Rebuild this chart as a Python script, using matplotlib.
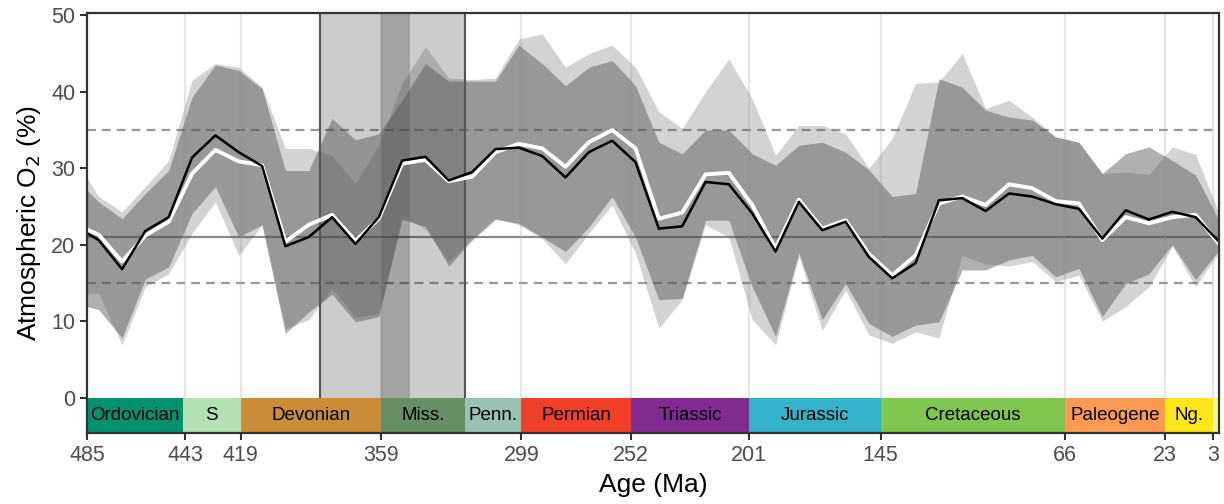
import matplotlib
matplotlib.use('Agg')
import matplotlib.pyplot as plt

plt.rcParams['font.family'] = ['Liberation Sans', 'DejaVu Sans']

# model time steps (Ma)
age = [485, 480, 470, 460, 450, 440, 430, 420, 410, 400,
       390, 380, 370, 360, 350, 340, 330, 320, 310, 300,
       290, 280, 270, 260, 250, 240, 230, 220, 210, 200,
       190, 180, 170, 160, 150, 140, 130, 120, 110, 100,
       90, 80, 70, 60, 50, 40, 30, 20, 10, 0]

o2_black = [21.5, 20.6, 16.8, 21.8, 23.6, 31.4, 34.3, 32.1, 30.3, 19.8,
            21.0, 23.6, 20.1, 23.6, 31.0, 31.5, 28.4, 29.5, 32.5, 32.7,
            31.6, 28.8, 32.1, 33.6, 30.8, 22.1, 22.4, 28.2, 27.9, 24.1,
            19.1, 25.6, 21.9, 23.0, 18.4, 15.6, 17.6, 25.8, 26.1, 24.4,
            26.7, 26.3, 25.3, 24.7, 20.8, 24.5, 23.3, 24.3, 23.6, 20.4]

o2_white = [22.0, 21.3, 17.8, 21.2, 23.0, 29.3, 32.4, 30.9, 30.4, 20.4,
            22.6, 23.9, 20.5, 23.4, 30.6, 31.1, 28.3, 28.9, 32.1, 33.2,
            32.6, 30.2, 33.4, 35.0, 32.6, 23.4, 24.2, 29.2, 29.4, 25.2,
            19.5, 25.9, 22.1, 23.2, 18.8, 16.0, 18.6, 25.4, 26.3, 25.2,
            27.9, 27.4, 25.7, 25.4, 20.6, 23.6, 22.8, 23.6, 23.9, 20.1]

# light envelope
light_hi = [28.7, 26.3, 24.3, 27.6, 31.0, 41.5, 43.7, 43.2, 40.6, 32.6,
            32.6, 31.7, 28.0, 33.0, 41.1, 45.9, 41.8, 41.6, 41.8, 46.9,
            47.6, 43.2, 45.0, 46.1, 43.2, 37.4, 35.2, 40.0, 44.3, 39.1,
            31.7, 35.6, 35.6, 34.5, 30.0, 33.9, 41.1, 41.3, 45.0, 37.8,
            38.9, 36.7, 34.1, 33.4, 29.3, 29.5, 29.2, 32.8, 31.8, 24.1]
light_lo = [13.6, 13.6, 6.9, 14.5, 16.2, 21.5, 25.6, 18.6, 22.6, 9.0,
            10.2, 14.3, 10.5, 11.0, 23.8, 22.0, 17.8, 20.8, 23.5, 22.6,
            20.8, 17.5, 21.5, 25.2, 18.9, 9.1, 12.8, 22.6, 21.0, 10.2,
            6.9, 18.5, 8.8, 14.1, 8.2, 7.1, 8.6, 7.8, 18.6, 17.5,
            17.2, 17.8, 15.2, 16.0, 10.0, 11.9, 14.5, 19.8, 14.5, 19.0]

# darker envelope
dark_hi = [27.1, 25.6, 23.4, 26.7, 29.7, 39.3, 43.5, 42.8, 40.4, 29.7,
           29.7, 36.5, 33.7, 34.5, 38.9, 43.7, 41.4, 41.4, 41.4, 46.1,
           43.7, 40.8, 43.2, 44.1, 40.8, 33.4, 31.9, 35.0, 35.0, 31.9,
           30.4, 33.0, 33.4, 32.1, 29.8, 26.3, 26.7, 41.7, 40.6, 37.6,
           36.7, 36.3, 34.1, 33.4, 29.3, 31.9, 32.8, 31.0, 29.1, 23.2]
dark_lo = [11.9, 11.5, 7.8, 15.5, 17.1, 24.1, 27.6, 21.0, 22.6, 8.4,
           11.2, 13.5, 9.9, 10.6, 23.3, 22.4, 17.2, 20.6, 23.3, 22.8,
           21.0, 19.1, 22.3, 26.3, 21.0, 12.8, 13.0, 23.2, 23.2, 14.5,
           8.0, 18.9, 10.2, 14.9, 9.7, 8.0, 9.5, 9.9, 16.7, 16.7,
           18.0, 18.6, 15.8, 16.9, 10.6, 14.9, 16.2, 20.0, 15.4, 19.3]

# geologic periods
period_names = ['Ordovician', 'S', 'Devonian', 'Miss.', 'Penn.', 'Permian',
                'Triassic', 'Jurassic', 'Cretaceous', 'Paleogene', 'Ng.', '']
period_start = [485.4, 443.8, 419.2, 358.9, 323.2, 298.9, 251.9, 201.3, 145.0, 66.0, 23.03, 2.58]
period_end = [443.8, 419.2, 358.9, 323.2, 298.9, 251.9, 201.3, 145.0, 66.0, 23.03, 2.58, 0.0]
period_cols = ['#009270', '#B3E1B6', '#CB8C37', '#678F66', '#99C2B5', '#F04028',
               '#812B92', '#34B2C9', '#7FC64E', '#FD9A52', '#FFE619', '#F9F97F']

tick_pos = [485, 443, 419.2, 358.9, 298.9, 251.9, 201.3, 145, 66, 23.03, 2.58]
tick_lab = ['485', '443', '419', '359', '299', '252', '201', '145', '66', '23', '3']

fig = plt.figure(figsize=(12.24, 5.04), dpi=100)
ax = fig.add_axes([0.0711, 0.1399, 0.9248, 0.8349])

for t in tick_pos:
    ax.axvline(t, color='#e3e3e3', lw=1.6, zorder=0.5)
    ax.axvline(t, color='white', alpha=0.08, lw=1.6, zorder=2.2)

ax.axhline(21, color='#8a8a8a', lw=1.6, zorder=1)
ax.axhline(15, color='#9a9a9a', lw=1.6, ls=(0, (4, 2.7)), zorder=1)
ax.axhline(35, color='#9a9a9a', lw=1.6, ls=(0, (4, 2.7)), zorder=1)

# highlighted interval
ax.axvspan(385, 323.2, color='black', alpha=0.2, lw=0, zorder=1.5)
ax.axvspan(358.9, 346.7, color='black', alpha=0.2, lw=0, zorder=1.5)

rib_col = '#505050'
ax.fill_between(age, light_lo, light_hi, color=rib_col, alpha=0.25, lw=0, zorder=2)
ax.fill_between(age, dark_lo, dark_hi, color=rib_col, alpha=0.45, lw=0, zorder=2)

ax.axvline(385, color='#555555', lw=1.5, zorder=2.5)
ax.axvline(323.2, color='#555555', lw=1.5, zorder=2.5)

ax.plot(age, o2_white, color='white', lw=2.8, zorder=3)
ax.plot(age, o2_black, color='black', lw=1.8, zorder=3.1)

ybot = -4.7
for name, s, e, c in zip(period_names, period_start, period_end, period_cols):
    ax.fill_between([s, e], [ybot, ybot], [0, 0], color=c, lw=0, zorder=4)
    mid = (min(s, 485) + e) / 2
    ax.text(mid, ybot / 2, name, ha='center', va='center', fontsize=13.5,
            color='black', zorder=5)

ax.set_xlim(485, 0)
ax.set_ylim(ybot, 50.35)
ax.set_xticks(tick_pos)
ax.set_xticklabels(tick_lab)
ax.set_yticks([0, 10, 20, 30, 40, 50])
ax.tick_params(axis='both', labelsize=15.5, colors='#333333', labelcolor='#4d4d4d',
               length=5, width=1.5)
for sp in ax.spines.values():
    sp.set_color('#333333')
    sp.set_linewidth(1.6)
    sp.set_zorder(6)

ax.set_xlabel('Age (Ma)', fontsize=19, labelpad=5)
ax.set_ylabel('Atmospheric O$_2$ (%)', fontsize=19, labelpad=6)

plt.savefig('out.png', dpi=100)
